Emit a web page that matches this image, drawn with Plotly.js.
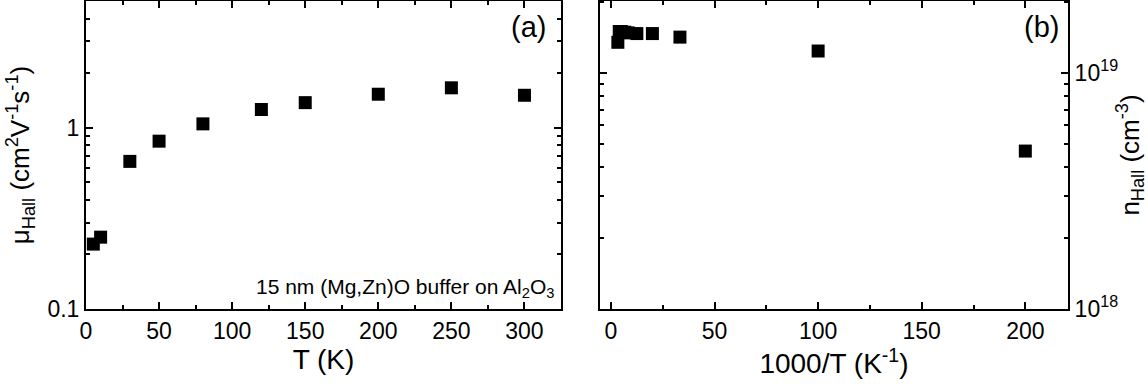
<!DOCTYPE html>
<html>
<head>
<meta charset="utf-8">
<script src="https://cdn.plot.ly/plotly-3.0.1.min.js"></script>
<style>html,body{margin:0;padding:0;background:#fff;}#chart{width:1148px;height:387px;}</style>
</head>
<body>
<div id="chart"></div>
<script>
// Panel (a): Hall mobility vs temperature
const temperatureK = [5, 10, 30, 50, 80, 120, 150, 200, 250, 300];
const mobilityHall = [0.228, 0.249, 0.652, 0.843, 1.05, 1.26, 1.375, 1.53, 1.66, 1.51];

// Panel (b): Hall carrier density vs 1000/T
const inverseT = [3.33, 4, 5, 6.67, 8.33, 12.5, 20, 33.3, 100, 200];
const densityHall = [1.35e19, 1.50e19, 1.50e19, 1.49e19, 1.48e19, 1.47e19, 1.47e19, 1.42e19, 1.24e19, 4.67e18];

const xTicksA = [0, 50, 100, 150, 200, 250, 300];
const xTicksB = [0, 50, 100, 150, 200];
const yTickValsA = [0.1, 1];
const yTickTextA = ['0.1', '1'];
const yTickValsB = [1e18, 1e19];
const yTickTextB = ['10<sup>18</sup>', '10<sup>19</sup>'];
const yMinorA = [0.2,0.3,0.4,0.5,0.6,0.7,0.8,0.9,2,3,4,5];
const yMinorB = [2e18,3e18,4e18,5e18,6e18,7e18,8e18,9e18,2e19];

const FONT = 'Liberation Sans, Arial, sans-serif';
const marker = {symbol: 'square', size: 13, color: '#000', line: {width: 0}};

const traces = [
  {x: temperatureK, y: mobilityHall, type: 'scatter', mode: 'markers', marker: marker, xaxis: 'x', yaxis: 'y', hoverinfo: 'skip'},
  {x: inverseT, y: densityHall, type: 'scatter', mode: 'markers', marker: marker, xaxis: 'x2', yaxis: 'y2', hoverinfo: 'skip'}
];

const axBase = {
  showline: true, linecolor: '#000', linewidth: 2, mirror: 'ticks',
  ticks: 'inside', ticklen: 7, tickwidth: 2, tickcolor: '#000',
  showgrid: false, zeroline: false,
  tickfont: {family: FONT, size: 23, color: '#000'},
  automargin: false
};
const xTitleFont = {family: FONT, size: 28, color: '#000'};
const yTitleFont = {family: FONT, size: 26, color: '#000'};
const minorStyle = {ticks: 'inside', ticklen: 4, tickwidth: 2, tickcolor: '#000'};

const layout = {
  width: 1148, height: 387,
  margin: {l: 86, r: 80, t: 1, b: 78},
  paper_bgcolor: '#fff', plot_bgcolor: '#fff',
  showlegend: false,
  font: {family: FONT, color: '#000'},
  xaxis: Object.assign({}, axBase, {
    domain: [0, 0.4837], range: [0, 325],
    tickvals: xTicksA,
    minor: Object.assign({tickvals: [25,75,125,175,225,275,325]}, minorStyle),
    title: {text: 'T (K)', font: xTitleFont, standoff: 2}
  }),
  yaxis: Object.assign({}, axBase, {
    domain: [0, 1], type: 'log', range: [-1, Math.log10(5)],
    tickvals: yTickValsA, ticktext: yTickTextA,
    minor: Object.assign({tickvals: yMinorA}, minorStyle),
    title: {text: 'μ<sub>Hall</sub> (cm<sup>2</sup>V<sup>-1</sup>s<sup>-1</sup>)', font: yTitleFont, standoff: 10}
  }),
  xaxis2: Object.assign({}, axBase, {
    anchor: 'y2',
    domain: [0.5234, 1.0], range: [-5.3, 220.6],
    tickvals: xTicksB,
    minor: Object.assign({tickvals: [25,75,125,175]}, minorStyle),
    title: {text: '1000/T (K<sup>-1</sup>)', font: xTitleFont, standoff: 2}
  }),
  yaxis2: Object.assign({}, axBase, {
    anchor: 'x2', side: 'right',
    domain: [0, 1], type: 'log', range: [18, Math.log10(2.02e19)],
    tickvals: yTickValsB, ticktext: yTickTextB,
    minor: Object.assign({tickvals: yMinorB}, minorStyle),
    title: {text: 'n<sub>Hall</sub> (cm<sup>-3</sup>)', font: yTitleFont, standoff: 10}
  }),
  annotations: [
    {text: '(a)', xref: 'x domain', yref: 'y domain', x: 0.973, y: 0.975, xanchor: 'right', yanchor: 'top', showarrow: false, font: {family: FONT, size: 29, color: '#000'}},
    {text: '(b)', xref: 'x2 domain', yref: 'y2 domain', x: 0.986, y: 0.975, xanchor: 'right', yanchor: 'top', showarrow: false, font: {family: FONT, size: 29, color: '#000'}},
    {text: '15 nm (Mg,Zn)O buffer on Al<sub>2</sub>O<sub>3</sub>', xref: 'x domain', yref: 'y domain', x: 0.99, y: 0.02, xanchor: 'right', yanchor: 'bottom', showarrow: false, font: {family: FONT, size: 21, color: '#000'}}
  ]
};

Plotly.newPlot('chart', traces, layout, {staticPlot: true, displayModeBar: false});
</script>
</body>
</html>
